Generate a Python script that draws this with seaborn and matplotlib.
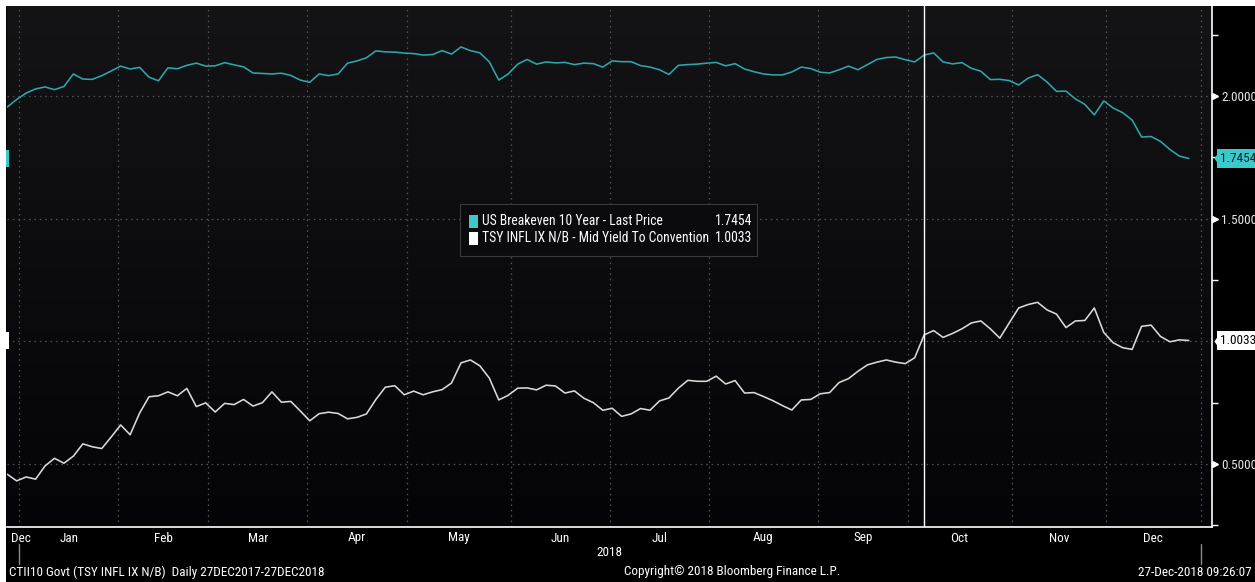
import numpy as np
import pandas as pd
import matplotlib
matplotlib.use("Agg")
import matplotlib.pyplot as plt
import matplotlib.transforms as mtransforms
from matplotlib import font_manager
from matplotlib.patches import Rectangle
from matplotlib.path import Path
import seaborn as sns

# ---------------- data ----------------
START = "2017-12-27"
END = "2018-12-27"
AXIS_END = "2019-01-04"
HOLIDAYS = ["2018-01-01", "2018-01-15", "2018-02-19", "2018-03-30", "2018-05-28",
            "2018-07-04", "2018-09-03", "2018-10-08", "2018-11-12", "2018-11-22",
            "2018-12-25", "2019-01-01"]
SERIES_NAMES = ["US Breakeven 10 Year - Last Price",
                "TSY INFL IX N/B - Mid Yield To Convention"]

# values every second trading day, 27-Dec-2017 .. 27-Dec-2018
breakeven = [
    1.955, 1.986, 2.012, 2.029, 2.037, 2.026, 2.039, 2.090, 2.069, 2.068,
    2.083, 2.102, 2.122, 2.110, 2.117, 2.077, 2.062, 2.115, 2.111, 2.125,
    2.134, 2.122, 2.123, 2.136, 2.127, 2.119, 2.094, 2.092, 2.090, 2.093,
    2.084, 2.065, 2.056, 2.090, 2.083, 2.090, 2.134, 2.143, 2.156, 2.184,
    2.180, 2.179, 2.175, 2.173, 2.167, 2.169, 2.185, 2.171, 2.200, 2.185,
    2.176, 2.139, 2.065, 2.090, 2.130, 2.149, 2.130, 2.139, 2.135, 2.137,
    2.128, 2.134, 2.132, 2.118, 2.143, 2.140, 2.140, 2.124, 2.118, 2.107,
    2.088, 2.125, 2.128, 2.130, 2.134, 2.137, 2.123, 2.132, 2.110, 2.099,
    2.090, 2.086, 2.086, 2.098, 2.118, 2.112, 2.097, 2.094, 2.107, 2.122,
    2.107, 2.128, 2.149, 2.157, 2.159, 2.148, 2.139, 2.167, 2.176, 2.139,
    2.131, 2.136, 2.113, 2.101, 2.067, 2.068, 2.063, 2.045, 2.073, 2.087,
    2.057, 2.019, 2.020, 1.988, 1.966, 1.923, 1.980, 1.951, 1.932, 1.902,
    1.833, 1.835, 1.815, 1.782, 1.755, 1.7454]
real_yield = [
    0.458, 0.431, 0.447, 0.438, 0.492, 0.523, 0.503, 0.532, 0.582, 0.570,
    0.563, 0.610, 0.659, 0.619, 0.707, 0.774, 0.778, 0.794, 0.778, 0.808,
    0.734, 0.749, 0.712, 0.747, 0.742, 0.763, 0.736, 0.750, 0.794, 0.752,
    0.755, 0.716, 0.676, 0.705, 0.711, 0.706, 0.684, 0.690, 0.704, 0.763,
    0.813, 0.819, 0.782, 0.797, 0.782, 0.794, 0.803, 0.830, 0.912, 0.924,
    0.900, 0.850, 0.761, 0.780, 0.809, 0.810, 0.802, 0.821, 0.818, 0.789,
    0.798, 0.768, 0.750, 0.719, 0.727, 0.694, 0.704, 0.726, 0.719, 0.757,
    0.769, 0.809, 0.841, 0.837, 0.837, 0.858, 0.826, 0.840, 0.789, 0.791,
    0.775, 0.758, 0.738, 0.720, 0.761, 0.763, 0.786, 0.791, 0.832, 0.848,
    0.878, 0.904, 0.915, 0.924, 0.915, 0.909, 0.933, 1.026, 1.044, 1.016,
    1.032, 1.051, 1.075, 1.083, 1.051, 1.013, 1.075, 1.136, 1.150, 1.159,
    1.128, 1.111, 1.056, 1.083, 1.085, 1.136, 1.036, 0.994, 0.974, 0.967,
    1.061, 1.066, 1.020, 0.998, 1.006, 1.0033]

MONTH_LABELS = ["Dec", "Jan", "Feb", "Mar", "Apr", "May", "Jun", "Jul",
                "Aug", "Sep", "Oct", "Nov", "Dec"]
YEAR_LABEL = "2018"
Y_TICKS = [0.5, 1.0, 1.5, 2.0]
Y_MINOR = [0.25, 0.75, 1.25, 1.75, 2.25]
MARKER_DATE = "2018-10-04"
FOOTER_LEFT = "CTII10 Govt (TSY INFL IX N/B)  Daily 27DEC2017-27DEC2018"
FOOTER_MID = "Copyright\u00a9 2018 Bloomberg Finance L.P."
FOOTER_RIGHT = "27-Dec-2018 09:26:07"

# ---------------- style ----------------
TEAL = "#2ea6aa"
TEAL_BOX = "#3cc9cc"
WHITE_LINE = "#d9d9d9"
GRID = "#505050"

sns.set_theme(style="dark")


def pick_font(cands):
    for c in cands:
        try:
            font_manager.findfont(font_manager.FontProperties(family=c),
                                  fallback_to_default=False)
            return c
        except Exception:
            continue
    return "DejaVu Sans"


NARROW = pick_font(["Liberation Sans Narrow", "DejaVu Sans Condensed",
                    "Roboto Condensed", "Open Sans Condensed"])
IS_NARROW = NARROW != "DejaVu Sans"
BASE = NARROW if IS_NARROW else pick_font(["Roboto", "Liberation Sans"])
plt.rcParams["font.family"] = [BASE, "DejaVu Sans"]
plt.rcParams["axes.unicode_minus"] = False
FS = 9.5 if IS_NARROW else 8.8      # axis labels
FS_L = 9.8 if IS_NARROW else 9.2    # legend
FS_F = 9.5 if IS_NARROW else 8.8    # footer
FS_R = 9.5 if IS_NARROW else 8.4    # right axis labels

W, H = 1255, 582
fig = plt.figure(figsize=(W / 100, H / 100), dpi=100, facecolor="black")


def fx(px):
    return px / W


def fy(py):
    return 1 - py / H


ax = fig.add_axes([fx(7), fy(527), fx(1212) - fx(7), fy(6) - fy(527)])
ax.set_facecolor("#0e0e10")

# trading-day calendar
cal = pd.bdate_range(START, AXIS_END, freq="C", holidays=HOLIDAYS)
data_days = cal[cal <= pd.Timestamp(END)]
sample_pos = np.arange(0, len(data_days), 2)
assert len(sample_pos) == len(breakeven) == len(real_yield)

df = pd.DataFrame({
    "pos": np.concatenate([sample_pos, sample_pos]),
    "value": breakeven + real_yield,
    "series": [SERIES_NAMES[0]] * len(breakeven) + [SERIES_NAMES[1]] * len(real_yield),
})

# background gradient
grad = np.linspace(0, 1, 256).reshape(-1, 1)
top = np.array([0.078, 0.078, 0.086])
bot = np.array([0.016, 0.016, 0.031])
img = top[None, None, :] * (1 - grad[:, :, None]) + bot[None, None, :] * grad[:, :, None]
ax.imshow(img, extent=[0, 1, 0, 1], transform=ax.transAxes, aspect="auto", zorder=0)

sns.lineplot(data=df, x="pos", y="value", hue="series", palette=[TEAL, WHITE_LINE],
             estimator=None, legend=False, ax=ax, linewidth=1.15, zorder=3)

# month boundaries / centres
bounds = [i - 0.5 for i in range(1, len(cal)) if cal[i].month != cal[i - 1].month]
centers = [(a + b) / 2 for a, b in zip(bounds[:-1], bounds[1:])]

ax.set_xlim(-0.05, 254.9)
ax.set_ylim(0.243, 2.367)
ax.set_xlabel("")
ax.set_ylabel("")

ax.set_xticks(bounds)
ax.set_xticklabels([])
ax.tick_params(axis="x", which="major", direction="out", length=4, width=0.8,
               color="#808080")

ax.yaxis.tick_right()
ax.set_yticks(Y_TICKS)
lasts = [breakeven[-1], real_yield[-1]]
ax.set_yticklabels([f"{t:.4f}" if min(abs(t - v) for v in lasts) > 0.05 else ""
                    for t in Y_TICKS])
ax.set_yticks(Y_MINOR, minor=True)
ax.tick_params(axis="y", which="major", length=0, pad=6.5, labelsize=FS_R,
               labelcolor="#e8e8e8")
ax.tick_params(axis="y", which="minor", direction="out", length=4, width=1,
               color="white")

ax.grid(True, which="major", axis="both", color=GRID, linestyle=(0, (1.3, 3)),
        linewidth=0.9)
for gl in ax.get_xgridlines() + ax.get_ygridlines():
    gl.set_zorder(1)

for side in ["top", "left"]:
    ax.spines[side].set_visible(False)
for side in ["right", "bottom"]:
    ax.spines[side].set_visible(True)
    ax.spines[side].set_color("white")
    ax.spines[side].set_linewidth(1.2)

# vertical marker line
marker_pos = cal.get_loc(pd.Timestamp(MARKER_DATE))
ax.axvline(marker_pos, color="white", lw=1.0, zorder=4)

# right tick triangles
blend_y = mtransforms.blended_transform_factory(ax.transAxes, ax.transData)
tri_tr = mtransforms.offset_copy(blend_y, fig=fig, x=3, y=0, units="dots")
shown = [t for t in Y_TICKS if min(abs(t - v) for v in lasts) > 0.05]
ax.plot([1.0] * len(shown), shown, linestyle="none", marker=">", ms=4.5,
        color="white", transform=tri_tr, clip_on=False, zorder=5)

# last-value tags on the right
arrow = Path([(-0.7, 0), (0, 1), (0, -1), (-0.7, 0)])
tag_tr = mtransforms.offset_copy(blend_y, fig=fig, x=8, y=0, units="dots")
for v, fc, tc in [(breakeven[-1], TEAL_BOX, "#06252a"), (real_yield[-1], "white", "black")]:
    ax.plot([1.0], [v], linestyle="none", marker=arrow, ms=12.5, color=fc,
            markeredgewidth=0, transform=tag_tr, clip_on=False, zorder=6)
    ax.annotate(f"{v:.4f}", xy=(1.0, v), xycoords=blend_y, xytext=(5.8, 0),
                textcoords="offset points", ha="left", va="center", fontsize=FS_R,
                color=tc, annotation_clip=False, zorder=7,
                bbox=dict(boxstyle="square,pad=0.2", fc=fc, ec="none"))
    # small marker on left edge
    ax.add_patch(Rectangle((-0.0008, v - 0.036), 0.0026, 0.072, transform=blend_y,
                           facecolor=fc, edgecolor="none", clip_on=False, zorder=6))

# month labels
lab_tr = mtransforms.blended_transform_factory(ax.transData, fig.transFigure)
ax.text(0.7, fy(538), MONTH_LABELS[0], transform=lab_tr, ha="left", va="center",
        color="white", fontsize=FS)
for c, lab in zip(centers, MONTH_LABELS[1:]):
    ax.text(c, fy(538), lab, transform=lab_tr, ha="center", va="center",
            color="white", fontsize=FS)
ax.text((bounds[0] + bounds[-1]) / 2, fy(552), YEAR_LABEL, transform=lab_tr,
        ha="center", va="center", color="white", fontsize=FS)
for b in [bounds[0], bounds[-1]]:
    ax.plot([b, b], [fy(544), fy(564)], color="#8a8a8a", lw=1, transform=lab_tr,
            clip_on=False)

# legend box
leg_x0, leg_y0, leg_x1, leg_y1 = 460, 204, 757, 256
fig.patches.append(Rectangle((fx(leg_x0), fy(leg_y1)), fx(leg_x1) - fx(leg_x0),
                             fy(leg_y0) - fy(leg_y1), transform=fig.transFigure,
                             facecolor="#0b0b0d", edgecolor="#3a3a3a", lw=0.8,
                             zorder=10))
for row_y, name, v, sw in [(221, SERIES_NAMES[0], breakeven[-1], TEAL_BOX),
                           (238, SERIES_NAMES[1], real_yield[-1], "white")]:
    fig.patches.append(Rectangle((fx(469), fy(row_y + 7)), fx(9), 13 / H,
                                 transform=fig.transFigure, facecolor=sw,
                                 edgecolor="none", zorder=11))
    fig.text(fx(482), fy(row_y), name, ha="left", va="center", color="white",
             fontsize=FS_L, zorder=12)
    fig.text(fx(752), fy(row_y), f"{v:.4f}", ha="right", va="center",
             color="white", fontsize=FS_L, zorder=12)

# footer
fig.text(fx(9), fy(572), FOOTER_LEFT, ha="left", va="center", color="white", fontsize=FS_F)
fig.text(fx(732), fy(572), FOOTER_MID, ha="center", va="center", color="white", fontsize=FS_F)
fig.text(fx(1252), fy(572), FOOTER_RIGHT, ha="right", va="center", color="white", fontsize=FS_F)

# white screenshot border (top / left)
fig.patches.append(Rectangle((0, fy(6)), 1, 6 / H, transform=fig.transFigure,
                             facecolor="white", edgecolor="none", zorder=20))
fig.patches.append(Rectangle((0, 0), fx(6), 1, transform=fig.transFigure,
                             facecolor="white", edgecolor="none", zorder=20))

fig.savefig("out.png", dpi=100, facecolor="black")
